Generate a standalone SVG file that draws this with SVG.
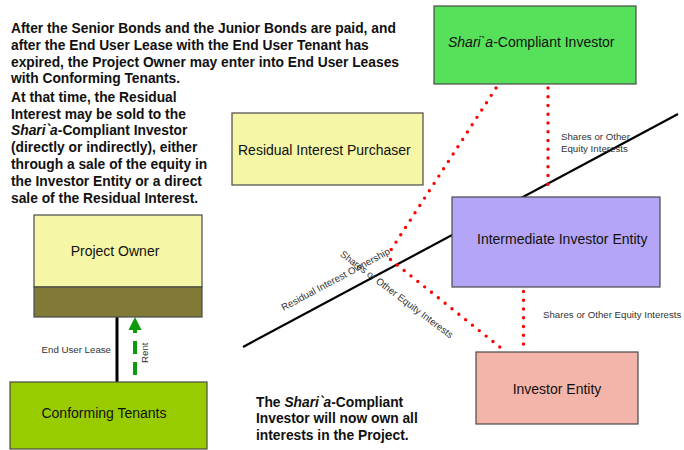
<svg xmlns="http://www.w3.org/2000/svg" width="684" height="450" viewBox="0 0 684 450">
<style>
text{font-family:"Liberation Sans",Arial,sans-serif;}
.box{stroke:#4a4a4a;stroke-width:1.2;}
.lbl{font-size:14px;fill:#111;}
.note{font-size:13.8px;font-weight:bold;fill:#111;}
.small{font-size:9.7px;fill:#333;}
.dots{fill:none;stroke:#ff0000;stroke-width:3.4;stroke-linecap:round;stroke-dasharray:0 8.75;}
</style>
<rect width="684" height="450" fill="#ffffff"/>
<g id="connectors">
  <line x1="243" y1="347" x2="678" y2="114" stroke="#000" stroke-width="2.2"/>
  <line x1="117" y1="317" x2="117" y2="382" stroke="#000" stroke-width="3"/>
  <line x1="135" y1="375" x2="135" y2="329" stroke="#0b9a0b" stroke-width="4" stroke-dasharray="13 8"/>
  <polygon points="135,317 128.5,330 141.5,330" fill="#0b9a0b"/>
</g>
<g id="investor-entity">
  <rect class="box" x="476" y="352" width="162" height="72" fill="#f3b4a9"/>
  <text class="lbl" x="557" y="394" text-anchor="middle">Investor Entity</text>
</g>
<g id="intermediate-investor-entity">
  <rect class="box" x="452" y="197" width="208" height="90" fill="#b4a5f6"/>
  <text class="lbl" x="477" y="244">Intermediate Investor Entity</text>
</g>
<g id="sharia-investor">
  <rect class="box" x="434" y="6" width="202" height="78" fill="#57e15a"/>
  <text class="lbl" x="448" y="47"><tspan font-style="italic">Shari`a</tspan>-Compliant Investor</text>
</g>
<g id="residual-interest-purchaser">
  <rect class="box" x="232" y="113" width="191" height="72" fill="#f5f6a6"/>
  <text class="lbl" x="238" y="155">Residual Interest Purchaser</text>
</g>
<g id="project-owner">
  <rect class="box" x="34" y="215" width="168" height="72" fill="#f5f6a6"/>
  <rect class="box" x="34" y="287" width="168" height="30" fill="#817a36"/>
  <text class="lbl" x="115" y="256" text-anchor="middle">Project Owner</text>
</g>
<g id="conforming-tenants">
  <rect class="box" x="10" y="382" width="197" height="67" fill="#99cc00"/>
  <text class="lbl" x="104" y="418" text-anchor="middle">Conforming Tenants</text>
</g>
<g id="dotted-connectors">
  <path class="dots" d="M496,88 L387,256"/>
  <path class="dots" d="M390.5,259.5 L506,352"/>
  <path class="dots" d="M548,88 L548,193"/>
  <path class="dots" d="M523.5,291.5 L523.5,352"/>
</g>
<g id="labels">
  <text class="small" x="561" y="139.5">Shares or Other</text>
  <text class="small" x="561" y="151.5">Equity Interests</text>
  <text class="small" x="543" y="317.5">Shares or Other Equity Interests</text>
  <text class="small" x="111" y="353" text-anchor="end">End User Lease</text>
  <text class="small" transform="translate(148,363) rotate(-90)">Rent</text>
  <text class="small" transform="translate(283.5,311) rotate(-28.2)">Residual Interest Ownership</text>
  <text class="small" transform="translate(339.5,255.5) rotate(37)">Shares or Other Equity Interests</text>
</g>
<g id="notes">
  <text class="note" x="11">
    <tspan x="11" y="33.3">After the Senior Bonds and the Junior Bonds are paid, and</tspan>
    <tspan x="11" y="50">after the End User Lease with the End User Tenant has</tspan>
    <tspan x="11" y="66.7">expired, the Project Owner may enter into End User Leases</tspan>
    <tspan x="11" y="83.3">with Conforming Tenants.</tspan>
  </text>
  <text class="note" x="11">
    <tspan x="11" y="101.7">At that time, the Residual</tspan>
    <tspan x="11" y="118.5">Interest may be sold to the</tspan>
    <tspan x="11" y="135.3"><tspan font-style="italic">Shari`a</tspan>-Compliant Investor</tspan>
    <tspan x="11" y="152.1">(directly or indirectly), either</tspan>
    <tspan x="11" y="168.9">through a sale of the equity in</tspan>
    <tspan x="11" y="185.7">the Investor Entity or a direct</tspan>
    <tspan x="11" y="202.5">sale of the Residual Interest.</tspan>
  </text>
  <text class="note" x="256">
    <tspan x="256" y="406.5"><tspan>The </tspan><tspan font-style="italic">Shari`a</tspan>-Compliant</tspan>
    <tspan x="256" y="423">Investor will now own all</tspan>
    <tspan x="256" y="439.5">interests in the Project.</tspan>
  </text>
</g>
</svg>
